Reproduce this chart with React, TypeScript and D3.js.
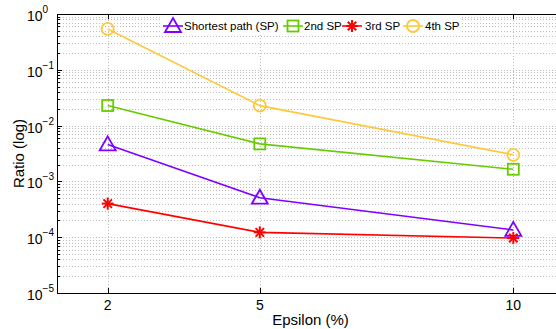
import { useMemo } from "react";
import * as d3 from "d3";

// --- data ---
const epsilons = [2, 5, 10];
const shortestPath = [0.0046, 0.00051, 0.000135];
const secondSP = [0.0229, 0.0047, 0.00165];
const thirdSP = [0.0004, 0.000122, 0.0000965];
const fourthSP = [0.54, 0.0228, 0.003];
const yDecades = [0, -1, -2, -3, -4, -5];

const series = [
  { name: "Shortest path (SP)", values: shortestPath, color: "#7f00ff", marker: "triangle" },
  { name: "2nd SP", values: secondSP, color: "#66cc00", marker: "square" },
  { name: "3rd SP", values: thirdSP, color: "#ff0000", marker: "star" },
  { name: "4th SP", values: fourthSP, color: "#ffc83c", marker: "circle" },
];

const W = 556;
const H = 329;
const margin = { left: 57, top: 14, bottom: 36 };
const FONT = "'Liberation Sans', Arial, Helvetica, sans-serif";

function Marker({ type, x, y, color }) {
  if (type === "triangle") {
    const s = 8;
    return (
      <path
        d={`M${x},${y - s} L${x + s},${y + s * 0.75} L${x - s},${y + s * 0.75} Z`}
        fill="none"
        stroke={color}
        strokeWidth={1.8}
      />
    );
  }
  if (type === "square") {
    return <rect x={x - 5.5} y={y - 5.5} width={11} height={11} fill="none" stroke={color} strokeWidth={1.8} />;
  }
  if (type === "circle") {
    return <circle cx={x} cy={y} r={6} fill="none" stroke={color} strokeWidth={1.8} />;
  }
  // star: asterisk of 4 strokes
  const r = 6;
  return (
    <g stroke={color} strokeWidth={2}>
      {[0, 45, 90, 135].map((a) => {
        const t = (a * Math.PI) / 180;
        return (
          <line key={a} x1={x - r * Math.cos(t)} y1={y - r * Math.sin(t)} x2={x + r * Math.cos(t)} y2={y + r * Math.sin(t)} />
        );
      })}
    </g>
  );
}

export default function App() {
  const x = d3.scaleLinear().domain([1, 11]).range([margin.left, 564]);
  const y = d3.scaleLog().domain([1e-5, 1]).range([H - margin.bottom, margin.top]);

  const minorVals = useMemo(() => {
    const v = [];
    for (let d = -5; d < 0; d++) {
      for (let m = 1; m <= 9; m++) v.push(m * Math.pow(10, d));
    }
    v.push(1);
    return v;
  }, []);

  const line = d3
    .line<number>()
    .x((_, i) => x(epsilons[i]))
    .y((d) => y(d));

  const y0 = H - margin.bottom;

  const legend = [
    { lx: 163, tx: 184 },
    { lx: 283, tx: 304 },
    { lx: 342, tx: 365 },
    { lx: 403, tx: 425 },
  ];

  return (
    <svg width={W} height={H} style={{ position: "absolute", left: 0, top: 0, background: "white" }} fontFamily={FONT}>
      {/* grid */}
      <g stroke="#bdbdbd" strokeWidth={1} strokeDasharray="1,2">
        {minorVals.map((v, i) => (
          <line key={i} x1={margin.left} x2={W} y1={Math.round(y(v)) + 0.5} y2={Math.round(y(v)) + 0.5} />
        ))}
        {epsilons.map((e) => (
          <line key={e} x1={Math.round(x(e)) + 0.5} x2={Math.round(x(e)) + 0.5} y1={margin.top} y2={y0} />
        ))}
      </g>

      {/* axes box */}
      <g stroke="#000" strokeWidth={1}>
        <line x1={margin.left + 0.5} x2={margin.left + 0.5} y1={margin.top} y2={y0 + 0.5} />
        <line x1={margin.left} x2={W} y1={y0 + 0.5} y2={y0 + 0.5} />
        <line x1={margin.left} x2={W} y1={margin.top + 0.5} y2={margin.top + 0.5} />
        {epsilons.map((e) => (
          <g key={e}>
            <line x1={Math.round(x(e)) + 0.5} x2={Math.round(x(e)) + 0.5} y1={y0} y2={y0 - 5} />
            <line x1={Math.round(x(e)) + 0.5} x2={Math.round(x(e)) + 0.5} y1={margin.top} y2={margin.top + 5} />
          </g>
        ))}
        {minorVals.map((v, i) => {
          const major = Math.abs(Math.log10(v) - Math.round(Math.log10(v))) < 1e-9;
          return (
            <line key={i} x1={margin.left} x2={margin.left + (major ? 5 : 3)} y1={Math.round(y(v)) + 0.5} y2={Math.round(y(v)) + 0.5} />
          );
        })}
      </g>

      {/* tick labels */}
      <g fontSize={14} fill="#000">
        {epsilons.map((e) => (
          <text key={e} x={x(e)} y={310} textAnchor="middle">
            {e}
          </text>
        ))}
        {yDecades.map((d) => (
          <text key={d} x={27} y={y(Math.pow(10, d)) + 7}>
            10
            <tspan dy={-8} fontSize={10}>
              {d === 0 ? "0" : "\u2212" + Math.abs(d)}
            </tspan>
          </text>
        ))}
      </g>

      {/* axis titles */}
      <text x={x(6)} y={325} textAnchor="middle" fontSize={15}>
        Epsilon (%)
      </text>
      <text transform="rotate(-90)" x={-(margin.top + y0) / 2} y={24} textAnchor="middle" fontSize={15}>
        Ratio (log)
      </text>

      {/* series */}
      {series.map((s) => (
        <g key={s.name}>
          <path d={line(s.values) || ""} fill="none" stroke={s.color} strokeWidth={1.6} />
          {s.values.map((v, i) => (
            <Marker key={i} type={s.marker} x={x(epsilons[i])} y={y(v)} color={s.color} />
          ))}
        </g>
      ))}

      {/* legend */}
      <rect x={160} y={15} width={300} height={20} fill="white" />
      {series.map((s, i) => (
        <g key={s.name}>
          <line x1={legend[i].lx} x2={legend[i].lx + 20} y1={26} y2={26} stroke={s.color} strokeWidth={1.6} />
          <Marker type={s.marker} x={legend[i].lx + 10} y={26} color={s.color} />
          <text x={legend[i].tx} y={30} fontSize={11.5}>
            {s.name}
          </text>
        </g>
      ))}
    </svg>
  );
}
